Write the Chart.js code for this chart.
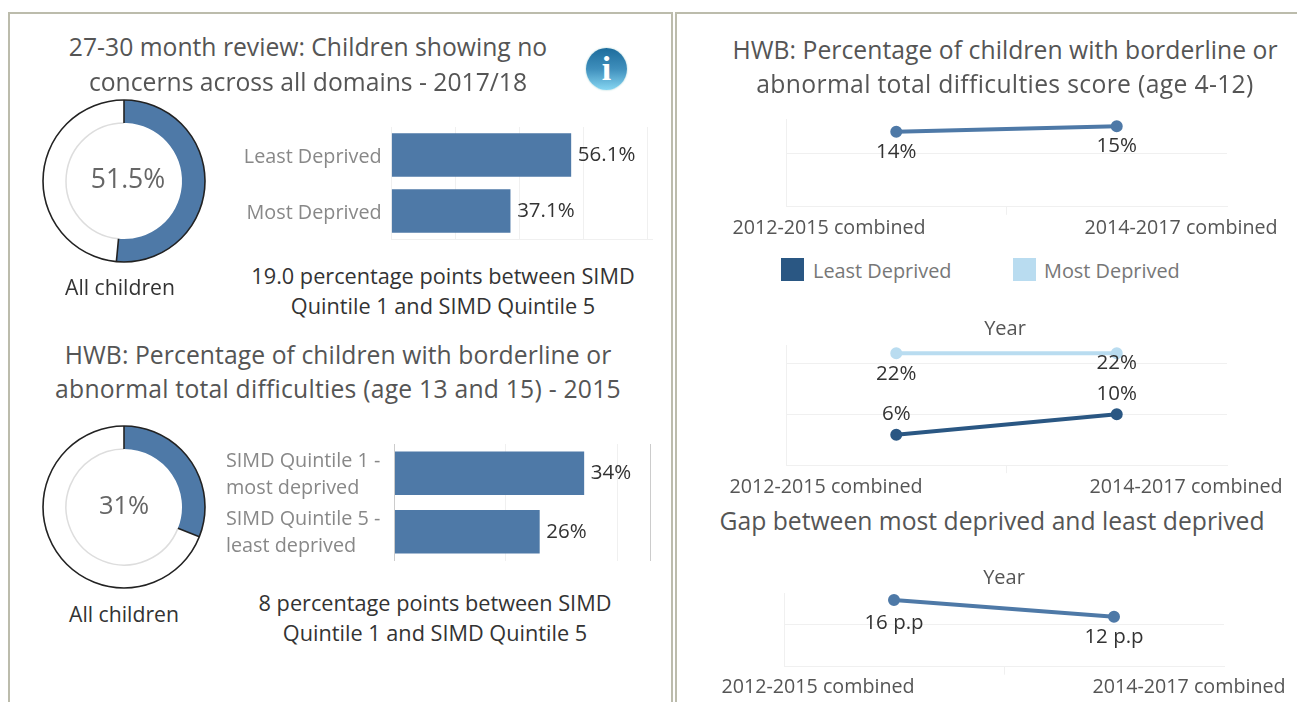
<!DOCTYPE html>
<html><head><meta charset="utf-8">
<script src="https://cdn.jsdelivr.net/npm/chart.js@4"></script>
<style>
html,body{margin:0;padding:0;background:#fff;overflow:hidden}
body{width:1297px;height:702px;position:relative;font-family:"Open Sans",sans-serif}
canvas{position:absolute}
.t{position:absolute;white-space:nowrap;line-height:1;transform:translate(-50%,-50%)}
.l{position:absolute;white-space:nowrap;line-height:1;transform:translateY(-50%)}
.panel{position:absolute;border:2px solid #bcbcac;border-bottom:none;box-sizing:border-box}
.sw{position:absolute;width:23px;height:23px}
#info{position:absolute;left:586px;top:48px;width:41px;height:42px;border-radius:50%;
background:linear-gradient(#1d6c9c 0%,#3f8fbc 50%,#86d6f2 100%);color:#fff;font:bold 34px/42px "Liberation Serif",serif;text-align:center;box-shadow:0 0 2px #9cc}
</style></head><body>
<div class="panel" style="left:8px;top:12px;width:665px;height:690px"></div>
<div class="panel" style="left:675px;top:12px;width:640px;height:690px"></div>
<div id="info">i</div>
<script>
// ---- data ----
const reviewAll = [51.5, 48.5];
const hwbAll = [31, 69];
const reviewCats = ['Least Deprived', 'Most Deprived'];
const reviewVals = [56.1, 37.1];
const hwbCats = [['SIMD Quintile 1 -', 'most deprived'], ['SIMD Quintile 5 -', 'least deprived']];
const hwbVals = [34, 26];
const years = ['2012-2015 combined', '2014-2017 combined'];
const age412 = [14, 15];
const leastDep = [6, 10];
const mostDep = [22, 22];
const gapVals = [16, 12];

const FONT = '"Open Sans",sans-serif';
const BLUE = '#4e79a7', DARK = '#2a5783', LIGHT = '#b9dcf0', GRID = '#f0f0f0';
Chart.defaults.animation = false;
Chart.defaults.responsive = false;
Chart.defaults.devicePixelRatio = 1;
Chart.defaults.events = [];
Chart.defaults.plugins.legend.display = false;
Chart.defaults.plugins.tooltip.enabled = false;

function canvas(x, y, w, h) {
  const c = document.createElement('canvas');
  c.width = w; c.height = h;
  c.style.cssText = `left:${x}px;top:${y}px;width:${w}px;height:${h}px`;
  document.body.appendChild(c);
  return c;
}
function text(s, cx, cy, size, color, spacing) {
  const d = document.createElement('div');
  d.className = 't'; d.textContent = s;
  d.style.cssText = `left:${cx}px;top:${cy}px;font-size:${size}px;color:${color};letter-spacing:${spacing || 0}px`;
  document.body.appendChild(d);
}
function leftText(s, x, cy, size, color) {
  const d = document.createElement('div');
  d.className = 'l'; d.textContent = s;
  d.style.cssText = `left:${x}px;top:${cy}px;font-size:${size}px;color:${color}`;
  document.body.appendChild(d);
}
function swatch(x, y, color) {
  const d = document.createElement('div');
  d.className = 'sw';
  d.style.cssText = `left:${x}px;top:${y}px;background:${color}`;
  document.body.appendChild(d);
}

// ---- doughnuts ----
const ringPlugin = {
  id: 'ring',
  afterDatasetsDraw(chart) {
    const arcs = chart.getDatasetMeta(0).data, ctx = chart.ctx;
    const a = arcs[0];
    ctx.save();
    ctx.strokeStyle = '#ddd'; ctx.lineWidth = 1.5;
    ctx.beginPath(); ctx.arc(a.x, a.y, a.innerRadius, a.endAngle, a.startAngle + 2 * Math.PI); ctx.stroke();
    ctx.strokeStyle = '#222'; ctx.lineWidth = 1.6;
    ctx.beginPath(); ctx.arc(a.x, a.y, a.outerRadius, 0, 2 * Math.PI); ctx.stroke();
    [a.startAngle, a.endAngle].forEach(t => {
      ctx.beginPath();
      ctx.moveTo(a.x + a.innerRadius * Math.cos(t), a.y + a.innerRadius * Math.sin(t));
      ctx.lineTo(a.x + a.outerRadius * Math.cos(t), a.y + a.outerRadius * Math.sin(t));
      ctx.stroke();
    });
    ctx.restore();
  }
};
function donut(cx, cy, vals) {
  new Chart(canvas(cx - 90, cy - 90, 180, 180), {
    type: 'doughnut',
    data: { labels: ['Value', 'Remainder'], datasets: [{ data: vals, backgroundColor: [BLUE, '#ffffff'], borderWidth: 0 }] },
    options: { radius: 81, cutout: '71.6%', plugins: {} },
    plugins: [ringPlugin]
  });
}
donut(124, 181, reviewAll);
donut(124, 507, hwbAll);

// ---- bars ----
const barLabels = {
  id: 'barLabels',
  afterDatasetsDraw(chart) {
    const ctx = chart.ctx, ds = chart.data.datasets[0], o = chart.options.plugins.barLabels;
    ctx.save();
    ctx.font = `20.5px ${FONT}`; ctx.fillStyle = '#333'; ctx.textBaseline = 'middle';
    chart.getDatasetMeta(0).data.forEach((b, i) => ctx.fillText(ds.data[i] + o.suffix, b.x + 7, b.y));
    ctx.restore();
  }
};
function bars(o) {
  const left = o.x, scaleW = o.axisX - left - o.padLeft;
  new Chart(canvas(o.x, o.y, o.w, o.h), {
    type: 'bar',
    data: { labels: o.cats, datasets: [{ data: o.vals, backgroundColor: BLUE, barThickness: 43 }] },
    options: {
      indexAxis: 'y',
      layout: { padding: { left: o.padLeft, right: o.x + o.w - o.endX, top: o.top - o.y, bottom: o.y + o.h - o.bottom } },
      plugins: { barLabels: { suffix: o.suffix } },
      scales: {
        x: {
          min: 0, max: o.max,
          afterFit(s) { s.height = 0; },
          afterBuildTicks(s) { s.ticks = o.gridVals.map(v => ({ value: v })); },
          ticks: { display: false },
          border: { display: o.bottomLine, color: GRID },
          grid: { drawTicks: false, color: c => o.gridColor(c.index) }
        },
        y: {
          afterFit(s) { s.width = scaleW; s.paddingTop = 0; s.paddingBottom = 0; },
          border: { display: false },
          grid: { display: false },
          ticks: { padding: o.tickPad, labelOffset: o.labelOffset, color: '#888', crossAlign: o.cross, font: { family: FONT, size: 19.8, lineHeight: 1.36 } }
        }
      }
    },
    plugins: [barLabels]
  });
}
const barGrid1 = [0, 20, 40, 60, 80];
const barGrid2 = [0, 20, 40, 45.9];
bars({ x: 215, y: 120, w: 445, h: 125, axisX: 391.6, endX: 652, top: 127, bottom: 239, padLeft: 0, cats: reviewCats, vals: reviewVals, suffix: '%', max: 81.5, gridVals: barGrid1, bottomLine: true, gridColor: () => GRID, cross: 'near', tickPad: 2, labelOffset: 2.5 });
bars({ x: 215, y: 437, w: 445, h: 131, axisX: 394.8, endX: 650, top: 444, bottom: 561, padLeft: 11, cats: hwbCats, vals: hwbVals, suffix: '%', max: 45.9, gridVals: barGrid2, bottomLine: false, gridColor: i => (i === 0 || i === 3) ? '#ccc' : GRID, cross: 'far', tickPad: 10, labelOffset: 1.5 });

// ---- lines ----
const pointLabels = {
  id: 'pointLabels',
  afterDatasetsDraw(chart) {
    const ctx = chart.ctx, o = chart.options.plugins.pointLabels;
    ctx.save();
    ctx.font = `20.5px ${FONT}`; ctx.fillStyle = '#333'; ctx.textAlign = 'center'; ctx.textBaseline = 'middle';
    chart.data.datasets.forEach((ds, d) => {
      chart.getDatasetMeta(d).data.forEach((p, i) =>
        ctx.fillText(ds.data[i] + o.suffix, p.x, p.y + o.dy[d][i]));
    });
    ctx.restore();
  }
};
function lines(o) {
  const X = 710, W = 587, Y = Math.round(o.top - 6), H = Math.round(o.baseline + 38 - Y);
  const span = o.right - o.left;
  const toUnits = px => (px - o.left) / span * 2 - 0.5;
  new Chart(canvas(X, Y, W, H), {
    type: 'line',
    data: { labels: years, datasets: o.series.map(s => ({ data: s.data, borderColor: s.color, backgroundColor: s.color, borderWidth: 4, pointRadius: 4, tension: 0, clip: false })) },
    options: {
      layout: { padding: { left: o.left - X, right: X + W - o.right, top: o.top - Y, bottom: Y + H - o.baseline - 38 } },
      plugins: { pointLabels: { suffix: o.suffix, dy: o.dy } },
      scales: {
        x: {
          offset: true,
          afterFit(s) { s.height = 0; },
          border: { color: GRID },
          ticks: { display: false },
          grid: { offset: true, drawOnChartArea: false, tickLength: 8, tickColor: c => c.index === 1 ? GRID : 'transparent' }
        },
        xLabels: {
          type: 'linear', position: 'bottom', min: -0.5, max: 1.5,
          afterFit(s) { s.height = 38; s.paddingLeft = 0; s.paddingRight = 0; },
          afterBuildTicks(s) { s.ticks = o.labelX.map(px => ({ value: toUnits(px) })); },
          border: { display: false },
          grid: { display: false, drawTicks: false },
          ticks: { autoSkip: false, maxRotation: 0, padding: o.tickPad, color: '#555', font: { family: FONT, size: 19.7 }, callback: (v, i) => years[i] }
        },
        y: {
          min: 0, max: o.max,
          afterFit(s) { s.width = 0; },
          afterBuildTicks(s) { s.ticks = o.gridVals.map(v => ({ value: v })); },
          border: { color: GRID },
          ticks: { display: false },
          grid: { color: GRID, drawTicks: false }
        }
      }
    },
    plugins: [pointLabels]
  });
}
const lineGrid1 = [0, 10];
const lineGrid2 = [0, 10, 20];
lines({ left: 786, right: 1227, top: 116.8, baseline: 206.8, max: 16.36, gridVals: lineGrid1, series: [{ data: age412, color: BLUE }], suffix: '%', dy: [[20, 20]], labelX: [829, 1181], tickPad: 10 });
lines({ left: 786, right: 1227, top: 342.5, baseline: 465.2, max: 23.6, gridVals: lineGrid2, series: [{ data: mostDep, color: LIGHT }, { data: leastDep, color: DARK }], suffix: '%', dy: [[21, 10], [-20, -20]], labelX: [826, 1186], tickPad: 10 });
lines({ left: 784, right: 1224, top: 590.7, baseline: 666.7, max: 17.67, gridVals: lineGrid1, series: [{ data: gapVals, color: BLUE }], suffix: ' p.p', dy: [[23, 21]], labelX: [818, 1189], tickPad: 9 });

// ---- text ----
const TITLE = '#555', SUB = '#333', SZ = 24.7;
text('27-30 month review: Children showing no', 308, 47, SZ, TITLE);
text('concerns across all domains - 2017/18', 308, 82, SZ, TITLE);
text('HWB: Percentage of children with borderline or', 338, 355, SZ, TITLE, 0.08);
text('abnormal total difficulties (age 13 and 15) - 2015', 338, 389, SZ, TITLE, 0.24);
text('HWB: Percentage of children with borderline or', 1005, 50, SZ, TITLE, 0.05);
text('abnormal total difficulties score (age 4-12)', 1005, 84, SZ, TITLE, 0.34);
text('Gap between most deprived and least deprived', 992, 521, SZ, TITLE);
text('51.5%', 128, 178, 26.5, '#666');
text('31%', 124, 505, 25.5, '#666');
text('All children', 120, 287, 21.2, SUB);
text('All children', 124, 614, 21.2, SUB);
text('19.0 percentage points between SIMD', 443, 276, 21.7, SUB);
text('Quintile 1 and SIMD Quintile 5', 443, 306, 21.7, SUB);
text('8 percentage points between SIMD', 435, 603, 21.7, SUB);
text('Quintile 1 and SIMD Quintile 5', 435, 633, 21.7, SUB);
text('Year', 1005, 328, 20, '#555');
text('Year', 1004, 577, 20, '#555');
swatch(781, 258, DARK); leftText('Least Deprived', 813, 271, 19.9, '#777');
swatch(1013, 258, LIGHT); leftText('Most Deprived', 1044, 271, 19.9, '#777');
</script>
</body></html>
